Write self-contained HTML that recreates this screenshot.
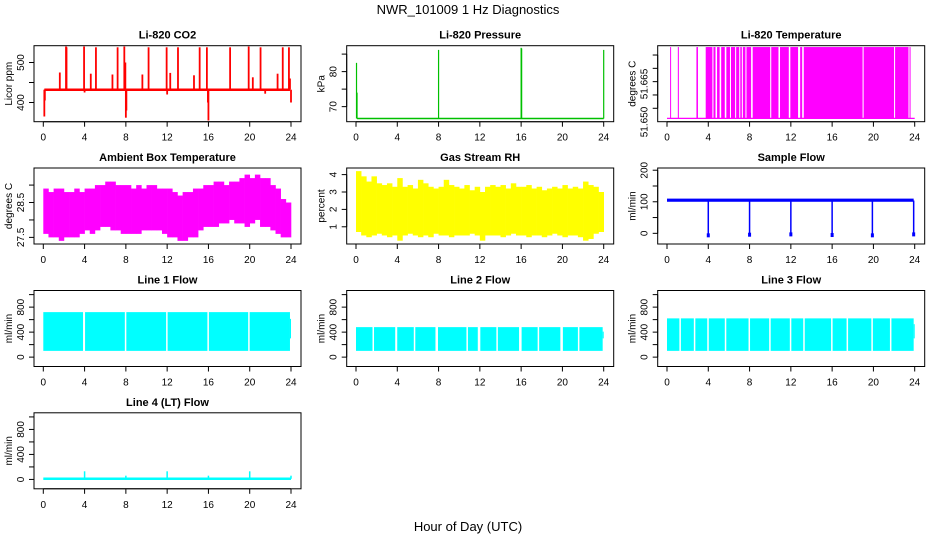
<!DOCTYPE html>
<html><head><meta charset="utf-8">
<style>
html,body{margin:0;padding:0;background:#fff;}
svg{display:block;font-family:"Liberation Sans",sans-serif;}
</style></head>
<body>
<svg id="chart" width="936" height="540" viewBox="0 0 936 540" xmlns="http://www.w3.org/2000/svg">
<text x="468" y="14" text-anchor="middle" font-size="13">NWR_101009  1 Hz Diagnostics</text>
<text x="468" y="531" text-anchor="middle" font-size="13">Hour of Day (UTC)</text>
</svg>
<script>
// ---- data arrays ----
const xTicks = [0,4,8,12,16,20,24];
const co2Base = 432;
const co2SpikeHours = [0.1,0.15,1.6,2.2,2.25,3.95,4.0,4.6,5.1,6.7,7.2,7.85,7.95,8.0,8.05,9.6,10.2,11.95,12.0,12.3,13.05,14.6,15.15,15.85,15.95,16.0,18.1,19.9,20.3,21.05,21.5,22.7,23.2,23.8,23.9,24.0];
const co2SpikeVals  = [365,405,475,540,538,540,425,472,538,470,538,540,500,362,380,470,538,538,420,474,538,468,538,538,400,355,538,540,463,538,422,472,538,538,460,400];
const presBase = 66.6;
const presSpikeHours = [0.05,0.1,8.0,16.0,16.05,24.0];
const presSpikeVals  = [82.5,74,86.2,86.8,86.6,86.2];
const liTempLow = 51.6462, liTempHigh = 51.6730;
const liTempHighStart = [0.3,1.05,2.85,3.75,4.5,4.85,5.25,5.75,6.2,6.7,7.1,7.35,7.7,8.3,10.1,10.95,11.95,12.9,13.25,19.05,22.1,23.5];
const liTempHighEnd   = [0.36,1.15,3.0,4.4,4.7,5.1,5.6,6.1,6.6,7.0,7.25,7.6,8.15,10.0,10.8,11.8,12.7,13.1,18.95,22.0,23.4,23.6];
const ambHi = [28.9,28.8,28.9,28.9,28.8,28.8,28.9,28.8,28.9,28.9,29.0,29.0,29.1,29.1,29.0,29.0,29.0,28.9,29.0,28.9,29.0,29.0,28.9,28.9,28.9,28.8,28.7,28.8,28.8,28.9,28.9,29.0,29.0,29.1,29.1,29.0,29.1,29.1,29.2,29.3,29.2,29.3,29.2,29.2,29.0,28.9,28.6,28.5];
const ambLo = [27.6,27.5,27.5,27.4,27.5,27.5,27.5,27.6,27.7,27.6,27.7,27.8,27.8,27.7,27.7,27.6,27.6,27.6,27.6,27.7,27.7,27.7,27.7,27.6,27.5,27.5,27.4,27.4,27.5,27.5,27.7,27.8,27.8,27.8,27.9,27.9,28.0,27.9,27.9,27.8,27.9,28.0,27.8,27.8,27.7,27.6,27.5,27.5];
const rhHi = [4.2,3.9,3.6,3.9,3.5,3.4,3.5,3.3,3.8,3.3,3.4,3.2,3.7,3.5,3.3,3.2,3.3,3.7,3.4,3.3,3.2,3.4,3.1,3.3,3.0,3.3,3.4,3.3,3.4,3.2,3.5,3.3,3.3,3.4,3.2,3.3,3.1,3.2,3.3,3.2,3.4,3.2,3.3,3.2,3.6,3.4,3.3,3.0];
const rhLo = [0.7,0.5,0.4,0.5,0.6,0.5,0.4,0.5,0.2,0.5,0.6,0.5,0.4,0.5,0.4,0.6,0.5,0.5,0.4,0.5,0.5,0.5,0.6,0.5,0.2,0.5,0.5,0.5,0.4,0.5,0.6,0.5,0.5,0.4,0.5,0.5,0.4,0.5,0.6,0.5,0.4,0.5,0.5,0.4,0.2,0.3,0.6,0.7];
const sampleBase = [106,104];
const sampleDipHours = [4.0,8.0,12.0,16.0,19.9,23.9];
const sampleDipVals  = [-5,-3,-2,-4,-5,-2];
const flow1Range = [100,720], flow1Gaps = [3.85,3.9,7.9,11.9,15.9,19.85];
const flow2Range = [100,480], flow2Gaps = [1.6,3.8,3.85,5.6,7.7,7.8,10.7,11.8,11.9,13.6,15.8,15.9,17.6,19.8,19.9,21.5];
const flow3Range = [100,620], flow3Gaps = [1.2,2.6,3.9,5.6,7.9,9.9,11.9,13.2,15.9,17.4,19.8,21.6];
const flow4Base = 10;
const flow4SpikeHours = [4.0,8.0,12.0,16.0,20.0,24.0];
const flow4SpikeVals  = [130,60,130,60,130,60];

// ---- layout ----
const NS = "http://www.w3.org/2000/svg";
const svg = document.getElementById('chart');
const colLeft = [34,346.7,657.7], rowTop = [45.7,168,290.5,412.8];
const PW = 267, PH = 76;
function mk(tag, attrs, parent){
  const e = document.createElementNS(NS, tag);
  for (const k in attrs) e.setAttribute(k, attrs[k]);
  (parent||svg).appendChild(e); return e;
}
function panel(col,row,name,title,ylab,yDom,yTicks,yLabels,labelOffsets){
  const L = colLeft[col], T = rowTop[row];
  const g = mk('g',{});
  
  
  const x = h => L + 9.3 + h/24*247.7;
  const y = v => T + PH - (v - yDom[0])/(yDom[1]-yDom[0])*PH;
  const plot = mk('g',{}, g);
  
  
  const box = mk('rect',{x:L,y:T,width:PW,height:PH,fill:'none',stroke:'#000','stroke-width':1}, g);
  
  
  const t = mk('text',{x:L+PW/2,y:T-7,'text-anchor':'middle','font-size':11,'font-weight':'bold'}, g);
  
  
  t.textContent = title;
  const xa = mk('g',{}, g);
  
  
  mk('line',{x1:x(0),x2:x(24),y1:T+PH,y2:T+PH,stroke:'#000'},xa);
  xTicks.forEach(h=>{
    mk('line',{x1:x(h),x2:x(h),y1:T+PH,y2:T+PH+5,stroke:'#000'},xa);
    const tl = mk('text',{x:x(h),y:T+PH+19,'text-anchor':'middle','font-size':10},xa);
    
    tl.textContent = h;
  });
  const ya = mk('g',{}, g);
  
  
  mk('line',{x1:L,x2:L,y1:y(yTicks[0]),y2:y(yTicks[yTicks.length-1]),stroke:'#000'},ya);
  yTicks.forEach(v=>mk('line',{x1:L-5,x2:L,y1:y(v),y2:y(v),stroke:'#000'},ya));
  yLabels.forEach((v,i)=>{
    const yy = labelOffsets ? labelOffsets[i] : y(v);
    const tl = mk('text',{x:L-10,y:yy,'text-anchor':'middle','font-size':10,transform:`rotate(-90 ${L-10} ${yy})`},ya);
    
    tl.textContent = v;
  });
  const yl = mk('text',{x:L-22,y:T+PH/2,'text-anchor':'middle','font-size':10,transform:`rotate(-90 ${L-22} ${T+PH/2})`},g);
  
  
  yl.textContent = ylab;
  return {x,y,plot,T,L};
}
function vline(p,h,v1,v2,color,w){ return mk('line',{x1:p.x(h),x2:p.x(h),y1:p.y(v1),y2:p.y(v2),stroke:color,'stroke-width':w||1.2},p.plot); }

let p = panel(0,0,'co2','Li-820 CO2','Licor ppm',[352,542],[400,450,500],[400,500]);
mk('line',{x1:p.x(0.1),x2:p.x(23.9),y1:p.y(co2Base),y2:p.y(co2Base),stroke:'#f00','stroke-width':2.5},p.plot);
co2SpikeHours.forEach((h,i)=>{ const l=vline(p,h,co2Base,co2SpikeVals[i],'#f00',1.8);  });

p = panel(1,0,'pressure','Li-820 Pressure','kPa',[65.7,87.4],[70,75,80,85],[70,80]);
mk('line',{x1:p.x(0.1),x2:p.x(24),y1:p.y(presBase),y2:p.y(presBase),stroke:'#00c000','stroke-width':1.5},p.plot);
presSpikeHours.forEach((h,i)=>{ const l=vline(p,h,presBase,presSpikeVals[i],'#00c000',1.2);  });

p = panel(2,0,'li820-temp','Li-820 Temperature','degrees C',[51.64496,51.6735],[51.650,51.655,51.660,51.665,51.670],['51.650','51.665'],[122,84]);
mk('line',{x1:p.x(0),x2:p.x(24),y1:p.y(liTempLow),y2:p.y(liTempLow),stroke:'#f0f','stroke-width':1.2},p.plot);
liTempHighStart.forEach((s,i)=>{
  const r = mk('rect',{x:p.x(s),y:p.y(liTempHigh),width:Math.max(1,p.x(liTempHighEnd[i])-p.x(s)),height:p.y(liTempLow)-p.y(liTempHigh),fill:'#f0f'},p.plot);
  
});

p = panel(0,1,'ambient-temp','Ambient Box Temperature','degrees C',[27.31,29.49],[27.5,28.0,28.5,29.0],['27.5','28.5']);
ambHi.forEach((v,i)=>{ const r=mk('rect',{x:p.x(i*0.5),y:p.y(v),width:p.x(0.5)-p.x(0)+0.3,height:p.y(ambLo[i])-p.y(v),fill:'#f0f'},p.plot);  });

p = panel(1,1,'gas-rh','Gas Stream RH','percent',[0.01,4.38],[1,2,3,4],[1,2,3,4]);
rhHi.forEach((v,i)=>{ const r=mk('rect',{x:p.x(i*0.5),y:p.y(v),width:p.x(0.5)-p.x(0)+0.3,height:p.y(rhLo[i])-p.y(v),fill:'#ff0'},p.plot);  });

p = panel(2,1,'sample-flow','Sample Flow','ml/min',[-33.8,207],[0,50,100,150,200],[0,100,200]);
mk('rect',{x:p.x(0),y:p.y(110),width:p.x(23.9)-p.x(0),height:p.y(sampleBase[1]-4)-p.y(110),fill:'#00f'},p.plot);
sampleDipHours.forEach((h,i)=>{ const l=vline(p,h,sampleBase[1],sampleDipVals[i],'#00f',1.5); 
  mk('rect',{x:p.x(h)-1.5,y:p.y(sampleDipVals[i]+5),width:3,height:4,fill:'#00f'},p.plot); });

function flowPanel(col,row,name,title,range,gaps){
  const q = panel(col,row,name,title,'ml/min',[-150,1066],[0,200,400,600,800,1000],[0,400,800]);
  const r = mk('rect',{x:q.x(0),y:q.y(range[1]),width:q.x(23.9)-q.x(0),height:q.y(range[0])-q.y(range[1]),fill:'#0ff'},q.plot);
  
  gaps.forEach(h=>{ const g=mk('rect',{x:q.x(h),y:q.y(range[1])-1,width:1.5,height:q.y(range[0])-q.y(range[1])+2,fill:'#fff'},q.plot);  });
  mk('rect',{x:q.x(23.9),y:q.y(range[1]*0.85),width:q.x(24)-q.x(23.9),height:q.y(range[0]*3)-q.y(range[1]*0.85),fill:'#0ff'},q.plot);
  return q;
}
flowPanel(0,2,'line1-flow','Line 1 Flow',flow1Range,flow1Gaps);
flowPanel(1,2,'line2-flow','Line 2 Flow',flow2Range,flow2Gaps);
flowPanel(2,2,'line3-flow','Line 3 Flow',flow3Range,flow3Gaps);
p = panel(0,3,'line4-flow','Line 4 (LT) Flow','ml/min',[-150,1066],[0,200,400,600,800,1000],[0,400,800]);
mk('line',{x1:p.x(0),x2:p.x(24),y1:p.y(flow4Base),y2:p.y(flow4Base),stroke:'#0ff','stroke-width':2.5},p.plot);
flow4SpikeHours.forEach((h,i)=>{ const l=vline(p,h,flow4Base,flow4SpikeVals[i],'#0ff',1.5);  });
</script>
</body></html>
